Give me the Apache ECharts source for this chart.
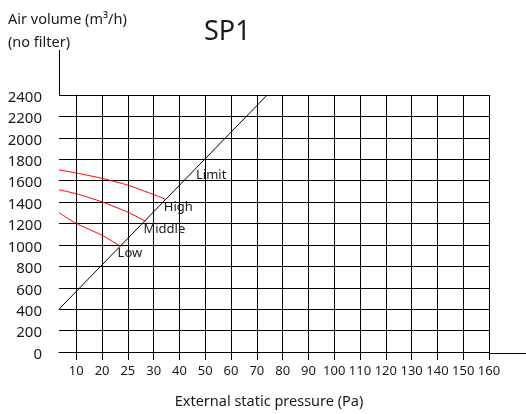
<!DOCTYPE html>
<html>
<head>
<meta charset="utf-8">
<script src="https://cdn.jsdelivr.net/npm/echarts@6/dist/echarts.min.js"></script>
<style>
  html, body { margin: 0; padding: 0; background: #fff; }
  #chart { width: 526px; height: 414px; }
</style>
</head>
<body>
<div id="chart"></div>
<script>
// Pressure ticks (Pa); the axis is spaced by tick position, not by value
const pressureTicks = ['10', '20', '25', '30', '40', '50', '60', '70', '80', '90', '100', '110', '120', '130', '140', '150', '160'];
const tickPositions = pressureTicks.map((_, i) => i);

// Fan curves: [tick position, air volume m³/h]
const highCurve = [[-0.67, 1700], [0, 1672], [1, 1622], [2, 1558], [3, 1470], [3.47, 1425]];
const middleCurve = [[-0.67, 1515], [0, 1478], [1, 1402], [2, 1305], [2.68, 1222]];
const lowCurve = [[-0.67, 1302], [0, 1200], [1, 1090], [1.68, 993]];
const limitLine = [[-0.67, 400], [7.4, 2400]];
const limitLabelAt = [4.64, 1647];

const volumeMin = 0, volumeMax = 2400, volumeStep = 200;
const axisStart = -0.67, axisEnd = 16;

const FONT = 'Noto Sans';
const INK = '#1a1a1a';

const G = { left: 59, top: 95, right: 37, bottom: 61 };
const W = 526, H = 414;

const chart = echarts.init(document.getElementById('chart'), null, { renderer: 'canvas' });

function fanSeries(name, data) {
  return {
    name, type: 'line', data, smooth: 0.2, symbol: 'none', silent: true,
    lineStyle: { color: '#ff0000', width: 1 },
    endLabel: {
      show: true, formatter: name, distance: 0, offset: [-2, 8],
      align: 'left', verticalAlign: 'middle',
      color: INK, fontFamily: FONT, fontSize: 13
    }
  };
}

chart.setOption({
  animation: false,
  textStyle: { fontFamily: FONT, color: INK },
  title: [
    { text: 'SP1', left: 199, top: 14, textStyle: { fontFamily: FONT, fontSize: 27, fontWeight: 'normal', color: INK } },
    { text: 'Air volume (m³/h)\n(no filter)', left: 3, top: 3, textStyle: { fontFamily: FONT, fontSize: 14.5, lineHeight: 23, fontWeight: 'normal', color: INK } }
  ],
  grid: { left: G.left, top: G.top, right: G.right, bottom: G.bottom, containLabel: false },
  xAxis: {
    type: 'value', min: axisStart, max: axisEnd,
    name: 'External static pressure (Pa)', nameLocation: 'middle', nameGap: 42,
    nameTextStyle: { fontFamily: FONT, fontSize: 14.5, color: INK, padding: [0, 10, 0, 0] },
    axisLine: { show: true, lineStyle: { color: '#000', width: 1 } },
    axisTick: { show: true, customValues: tickPositions, length: 8, inside: false, lineStyle: { color: '#000' } },
    axisLabel: {
      customValues: tickPositions, margin: 13, interval: 0, hideOverlap: false,
      formatter: v => pressureTicks[Math.round(v)],
      fontFamily: FONT, fontSize: 13, color: INK
    },
    splitLine: { show: true, lineStyle: { color: '#000', width: 1 } }
  },
  yAxis: {
    type: 'value', min: volumeMin, max: volumeMax, interval: volumeStep,
    axisLine: { show: true, lineStyle: { color: '#000', width: 1 } },
    axisTick: { show: true, length: 11, inside: false, lineStyle: { color: '#000' } },
    axisLabel: {
      margin: 17, fontFamily: FONT, fontSize: 15, color: INK,
      formatter: v => String(v), verticalAlign: 'top', padding: [-5, 0, 0, 0]
    },
    splitLine: { show: true, lineStyle: { color: '#000', width: 1 } }
  },
  graphic: [
    // axis lines continue past the plotting area
    { type: 'line', shape: { x1: G.left + 0.5, y1: 50, x2: G.left + 0.5, y2: G.top }, style: { stroke: '#000', lineWidth: 1 } },
    { type: 'line', shape: { x1: W - G.right, y1: H - G.bottom + 0.5, x2: W, y2: H - G.bottom + 0.5 }, style: { stroke: '#000', lineWidth: 1 } }
  ],
  series: [
    {
      name: 'Limit', type: 'line', data: limitLine, symbol: 'none', silent: true,
      lineStyle: { color: '#000', width: 1 },
      markPoint: {
        symbol: 'circle', symbolSize: 0, silent: true,
        label: { show: true, position: 'right', distance: 0, formatter: 'Limit', color: INK, fontFamily: FONT, fontSize: 13 },
        data: [{ coord: limitLabelAt }]
      }
    },
    fanSeries('High', highCurve),
    fanSeries('Middle', middleCurve),
    fanSeries('Low', lowCurve)
  ]
});
</script>
</body>
</html>
